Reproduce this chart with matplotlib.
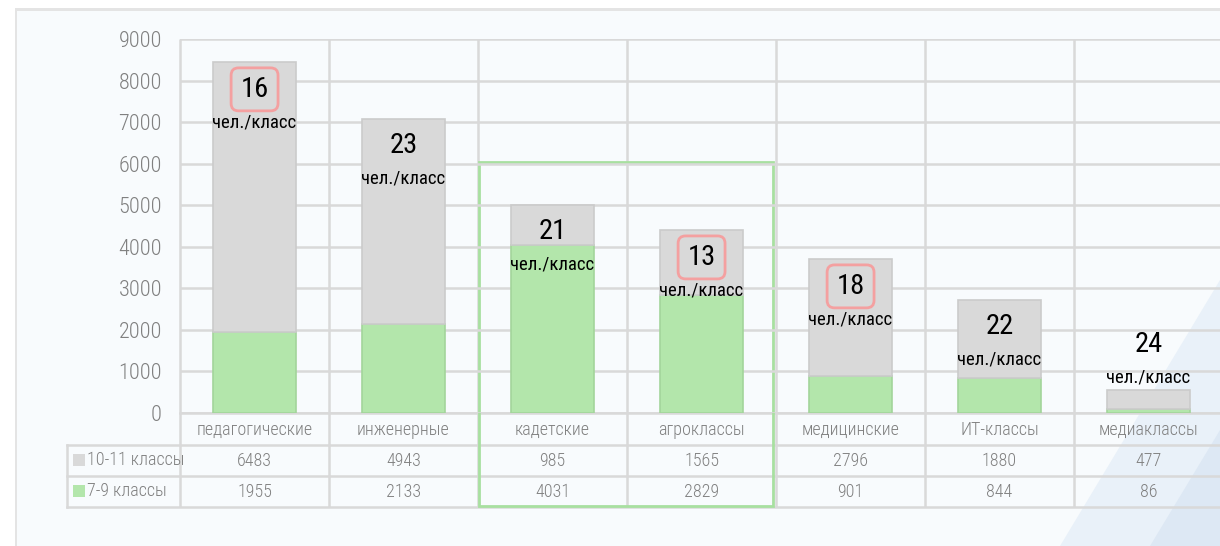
import matplotlib
matplotlib.use("Agg")
import matplotlib.pyplot as plt
import matplotlib.transforms as mtransforms
from matplotlib.patches import Rectangle, FancyBboxPatch, Polygon

# data
categories = ["педагогические", "инженерные", "кадетские", "агроклассы",
              "медицинские", "ИТ-классы", "медиаклассы"]
senior = [6483, 4943, 985, 1565, 2796, 1880, 477]     # 10-11 классы
junior = [1955, 2133, 4031, 2829, 901, 844, 86]       # 7-9 классы
per_class = [16, 23, 21, 13, 18, 22, 24]
highlighted = [True, False, False, True, True, False, False]
series_names = ["10-11 классы", "7-9 классы"]
yticks = list(range(0, 10000, 1000))

GRAY = "#d9d9d9"
GREEN = "#b3e6ab"
GRID = "#d9d9d9"
TXT = "#808080"
NARROW = ["Roboto Condensed", "IBM Plex Sans Condensed", "DejaVu Sans"]

W, H = 1220, 546
fig = plt.figure(figsize=(W / 100, H / 100), dpi=100)
fig.patch.set_facecolor("white")

# full-figure overlay in pixel coords for frame / table
bg = fig.add_axes([0, 0, 1, 1], zorder=0)
bg.set_xlim(0, W)
bg.set_ylim(H, 0)
bg.axis("off")
bg.add_patch(Rectangle((15, 8), W, H, facecolor="#e4e4e4", edgecolor="none"))
bg.add_patch(Rectangle((17, 11), W, H, facecolor="#f8fbfd", edgecolor="none"))
bg.add_patch(Polygon([(1060, H), (1220, 280), (1220, H)], closed=True,
                     facecolor="#e9f1f9", edgecolor="none"))
bg.add_patch(Polygon([(1150, H), (1220, 430), (1220, H)], closed=True,
                     facecolor="#dde8f4", edgecolor="none"))

y0, y9 = 413, 39
ax = fig.add_axes([180 / W, (H - y0) / H, 1043 / W, (y0 - y9) / H], zorder=2)
ax.patch.set_alpha(0)
x = list(range(len(categories)))
ax.bar(x, junior, width=0.56, color=GREEN, edgecolor="#a3d59b", linewidth=1.2, zorder=3)
ax.bar(x, senior, width=0.56, bottom=junior, color=GRAY, edgecolor="#cbcbcb",
       linewidth=1.2, zorder=3)
ax.set_xlim(-0.5, len(categories) - 0.5)
ax.set_ylim(0, 9000)
ax.set_yticks(yticks)
ax.set_yticklabels([str(t) for t in yticks], color=TXT, fontsize=16,
                   family=NARROW, fontweight="light")
ax.tick_params(axis="y", length=0, pad=13)
ax.set_xticks([])
ax.grid(axis="y", color=GRID, linewidth=1.8, zorder=0)
ax.set_axisbelow(True)
for s in ax.spines.values():
    s.set_visible(False)

# per-class annotations
for i, (j, s, n) in enumerate(zip(junior, senior, per_class)):
    top = j + s
    ny = max(top - 650, 1640)
    ax.text(i, ny, str(n), ha="center", va="center", fontsize=20.5,
            family=NARROW, color="black", zorder=5)
    ax.text(i, ny - 790, "чел./класс", ha="center", va="center", fontsize=13.5,
            family=NARROW, color="black", zorder=5)
    if highlighted[i]:
        ax.add_patch(FancyBboxPatch((i - 0.157, ny - 517), 0.315, 1034,
                                    boxstyle="round,pad=0,rounding_size=0.05",
                                    mutation_aspect=3585,
                                    facecolor="none", edgecolor="#f4a0a0",
                                    linewidth=2, zorder=6))

# grid + table: x from category columns, y in pixel rows
tr = mtransforms.blended_transform_factory(ax.transData, bg.transData)
row_y = [413, 445, 476, 507]
for b in range(len(categories) + 1):
    bg.plot([b - 0.5, b - 0.5], [y9, row_y[-1]], color=GRID, lw=1.8,
            transform=tr, zorder=1, solid_capstyle="butt")
for k, ry in enumerate(row_y):
    x_left = 180 if k == 0 else 67
    bg.plot([x_left, W], [ry, ry], color=GRID, lw=1.8, zorder=1)
bg.plot([67, 67], [445, 507], color=GRID, lw=1.8, zorder=1)

for i, c in enumerate(categories):
    bg.text(i, 430, c, transform=tr, ha="center", va="center", fontsize=13,
            color=TXT, family=NARROW, fontweight="light", zorder=4)
    bg.text(i, 461, str(senior[i]), transform=tr, ha="center", va="center",
            fontsize=13, color=TXT, family=NARROW, fontweight="light", zorder=4)
    bg.text(i, 492, str(junior[i]), transform=tr, ha="center", va="center",
            fontsize=13, color=TXT, family=NARROW, fontweight="light", zorder=4)

for ry, name, col in [(460, series_names[0], GRAY), (491, series_names[1], GREEN)]:
    bg.add_patch(Rectangle((73, ry - 6), 12, 12, facecolor=col,
                           edgecolor="none", zorder=4))
    bg.text(87, ry, name, ha="left", va="center", fontsize=13, color=TXT,
            family=NARROW, fontweight="light", zorder=4)

# green highlight around кадетские + агроклассы
bg.add_patch(Rectangle((479, 162), 294, 344, facecolor="none",
                       edgecolor="#a8e0a0", linewidth=2, zorder=5))

fig.savefig("out.png", dpi=100)
